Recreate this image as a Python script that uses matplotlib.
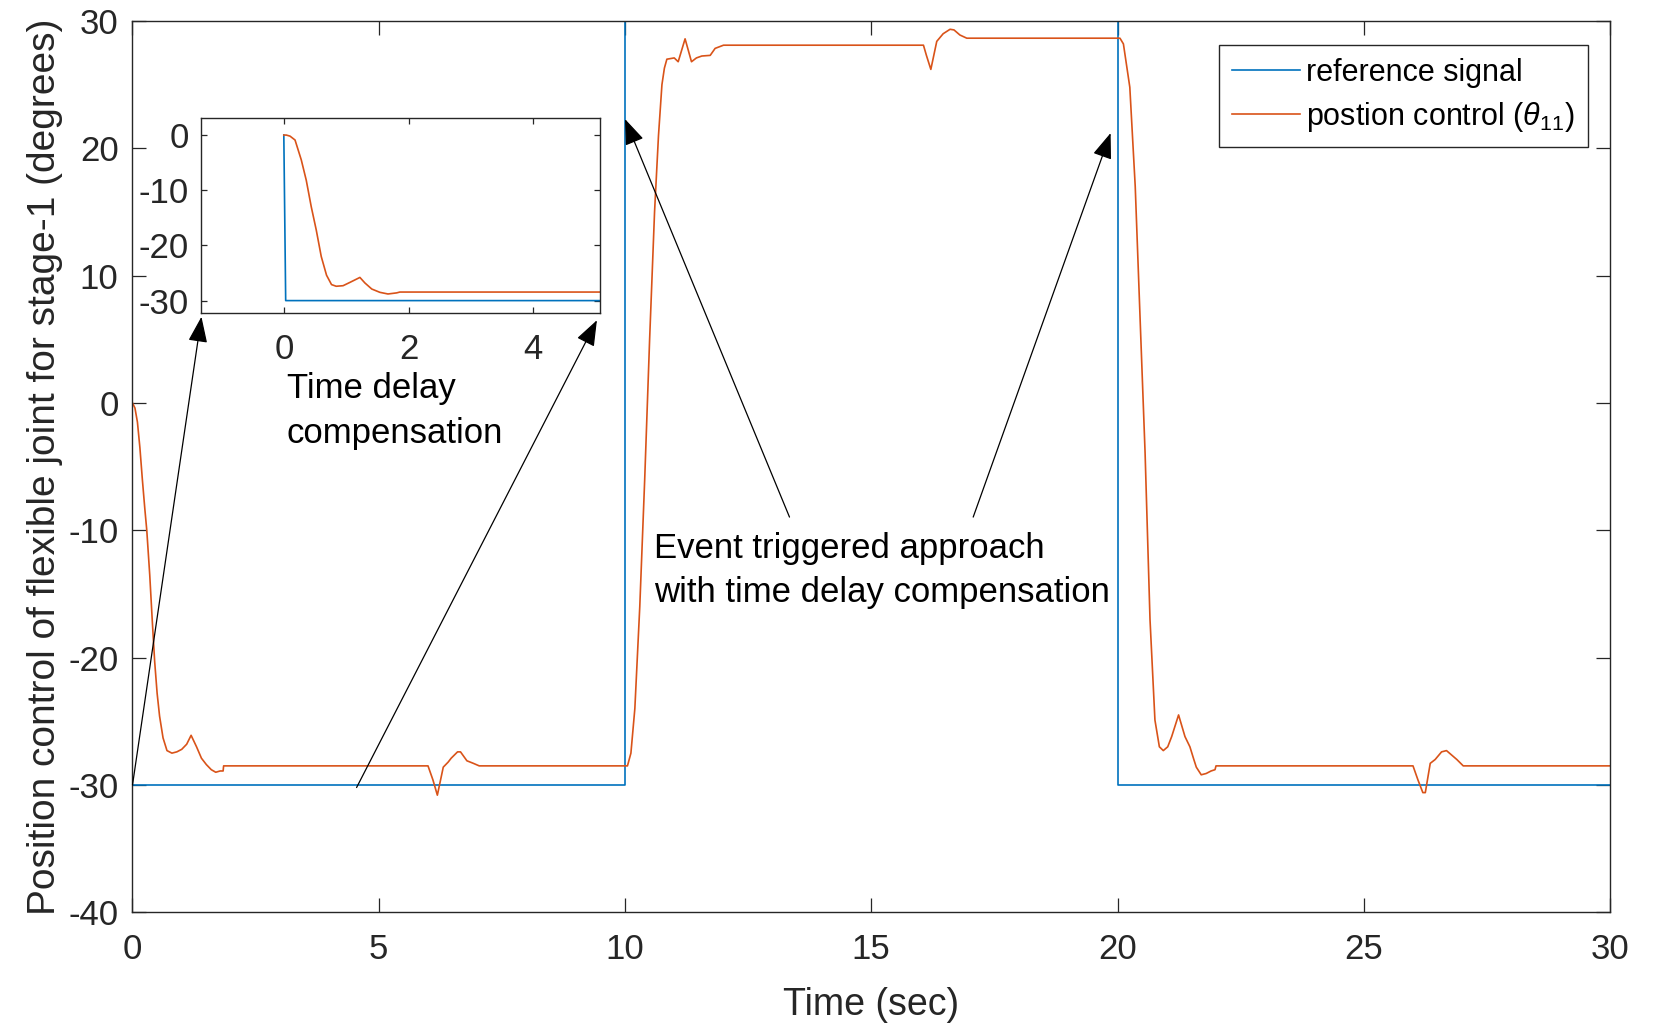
import matplotlib
matplotlib.use('Agg')
import matplotlib.pyplot as plt

plt.rcParams['font.family'] = ['Liberation Sans', 'DejaVu Sans']
plt.rcParams['mathtext.fontset'] = 'custom'
plt.rcParams['mathtext.rm'] = 'Liberation Sans'
plt.rcParams['mathtext.it'] = 'Liberation Sans:italic'
plt.rcParams['axes.unicode_minus'] = False

blue = '#0072BD'
orange = '#D95319'
axcol = '#262626'

# reference signal (square wave)
ref_t = [0, 0, 10, 10, 20, 20, 30]
ref_y = [0, -30, -30, 30, 30, -30, -30]

# position control theta_11
red_t = [0, 0.05, 0.1, 0.15, 0.2, 0.25, 0.29, 0.35, 0.4, 0.45, 0.5, 0.55, 0.62, 0.7, 0.8, 0.9,
         1.0, 1.1, 1.19, 1.3, 1.4, 1.5, 1.6, 1.69, 1.78, 1.84, 1.85,
         6.0, 6.1, 6.19, 6.31, 6.41, 6.47, 6.6, 6.66, 6.79, 6.92, 7.04,
         10.05, 10.12, 10.2, 10.3, 10.4, 10.5, 10.6, 10.68, 10.75, 10.8, 10.85, 11.0, 11.08,
         11.22, 11.35, 11.45, 11.56, 11.73, 11.83, 12.0,
         16.06, 16.12, 16.21, 16.33, 16.46, 16.6, 16.68, 16.8, 16.94,
         20.05, 20.12, 20.25, 20.36, 20.46, 20.56, 20.66, 20.76, 20.85, 20.93, 21.02, 21.1,
         21.24, 21.37, 21.47, 21.55, 21.6, 21.7, 21.8, 21.9, 21.98, 22.0,
         26.0, 26.1, 26.2, 26.25, 26.35, 26.45, 26.58, 26.68, 26.89, 27.02, 30]
red_y = [0, -0.4, -1.5, -3.5, -6.0, -8.3, -10, -13.5, -17, -20.3, -22.8, -24.6, -26.3, -27.3, -27.5, -27.4,
         -27.2, -26.8, -26.1, -27.0, -27.9, -28.4, -28.8, -29.0, -28.9, -28.9, -28.5,
         -28.5, -29.6, -30.8, -28.6, -28.2, -27.9, -27.4, -27.4, -28.1, -28.3, -28.5,
         -28.5, -27.5, -24.0, -16.0, -6.0, 5.0, 15.0, 21.0, 25.0, 26.3, 27.0, 27.1, 26.8,
         28.6, 26.8, 27.1, 27.25, 27.3, 27.85, 28.1,
         28.1, 27.3, 26.2, 28.4, 29.0, 29.35, 29.3, 28.9, 28.65,
         28.65, 28.2, 24.8, 17.0, 6.5, -3.9, -17.0, -24.9, -27.0, -27.3, -27.0, -26.2,
         -24.5, -26.2, -27.0, -28.0, -28.6, -29.2, -29.1, -28.9, -28.8, -28.5,
         -28.5, -29.6, -30.6, -30.6, -28.3, -28.0, -27.4, -27.3, -28.0, -28.5, -28.5]

# inset: first seconds of the response
inset_t = [0, 0.04, 0.1, 0.18, 0.28, 0.36, 0.44, 0.52, 0.6, 0.685, 0.765, 0.84, 0.95, 1.06, 1.22,
           1.3, 1.41, 1.54, 1.67, 1.81, 1.86, 5.2]
inset_y = [0, 0, -0.2, -0.9, -4.5, -8.2, -13, -17.2, -22, -25.4, -27.1, -27.4, -27.3, -26.7, -25.8,
           -26.8, -27.9, -28.5, -28.8, -28.6, -28.45, -28.45]
inset_ref_t = [0, 0.03, 5.2]
inset_ref_y = [0, -30, -30]

fig = plt.figure(figsize=(16.55, 10.27), dpi=100)
ax = fig.add_axes([0.08006, 0.11168, 0.89275, 0.86787])

ax.plot(ref_t, ref_y, color=blue, lw=1.2, label='reference signal')
ax.plot(red_t, red_y, color=orange, lw=1.2, label='postion control ($\\theta_{11}$)')

ax.set_xlim(0, 30)
ax.set_ylim(-40, 30)
ax.set_xticks([0, 5, 10, 15, 20, 25, 30])
ax.set_yticks([-40, -30, -20, -10, 0, 10, 20, 30])
ax.tick_params(direction='in', length=10, width=0.9, top=True, right=True,
               labelsize=25, colors=axcol, labelcolor=axcol)
ax.tick_params(axis='x', pad=15)
ax.tick_params(axis='y', pad=10)
for s in ax.spines.values():
    s.set_color(axcol)
    s.set_linewidth(1.0)
ax.set_xlabel('Time (sec)', fontsize=27, color=axcol, labelpad=15)
ax.set_ylabel('Position control of flexible joint for stage-1 (degrees)', fontsize=28,
              color=axcol, labelpad=4)

leg = ax.legend(loc='upper right', bbox_to_anchor=(0.985, 0.973), fontsize=22, fancybox=False,
                framealpha=1, edgecolor=axcol, handlelength=2.25, handletextpad=0.2,
                labelspacing=0.4, borderpad=0.42, borderaxespad=0)
leg.get_frame().set_linewidth(1.0)

arrow = dict(arrowstyle='-|>,head_length=0.8,head_width=0.3', color='black', lw=0.9,
             shrinkA=0, shrinkB=0, mutation_scale=20)
ax.annotate('', xy=(1.40, 6.77), xytext=(0, -30), arrowprops=arrow)
ax.annotate('', xy=(9.43, 6.5), xytext=(4.55, -30.2), arrowprops=arrow)
ax.annotate('', xy=(10.0, 22.3), xytext=(13.34, -8.96), arrowprops=arrow)
ax.annotate('', xy=(19.86, 21.2), xytext=(17.07, -8.96), arrowprops=arrow)

# va='baseline' lines up the last line of a multi-line text
ax.text(3.13, -3.15, 'Time delay\ncompensation', fontsize=25, va='baseline', ha='left',
        linespacing=1.45)
ax.text(10.59, -15.61, 'Event triggered approach\nwith time delay compensation', fontsize=25,
        va='baseline', ha='left', linespacing=1.4)

ins = fig.add_axes([0.12175, 0.69494, 0.24079, 0.18968])
ins.plot(inset_ref_t, inset_ref_y, color=blue, lw=1.2)
ins.plot(inset_t, inset_y, color=orange, lw=1.2)
ins.set_xlim(-1.32, 5.07)
ins.set_ylim(-32.3, 3)
ins.set_xticks([0, 2, 4])
ins.set_yticks([-30, -20, -10, 0])
ins.tick_params(direction='in', length=4, width=0.9, top=True, right=True,
                labelsize=25, colors=axcol, labelcolor=axcol)
ins.tick_params(axis='x', pad=14)
ins.tick_params(axis='y', pad=9)
for s in ins.spines.values():
    s.set_color(axcol)
    s.set_linewidth(1.0)

fig.savefig('out.png', dpi=100)
